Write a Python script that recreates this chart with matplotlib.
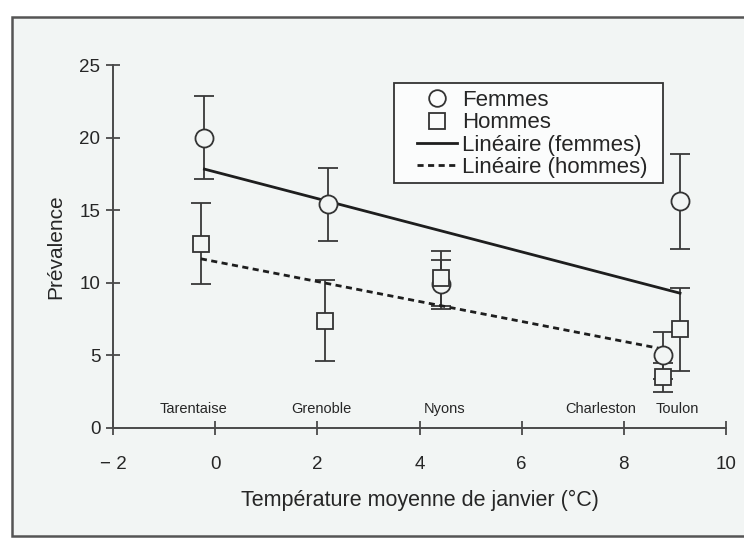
import numpy as np
import matplotlib
matplotlib.use('Agg')
import matplotlib.pyplot as plt
from matplotlib.patches import Rectangle
from matplotlib.lines import Line2D

# data
fem_x = np.array([-0.21, 2.2, 4.43, 8.76, 9.1])
fem_y = np.array([20.0, 15.4, 9.9, 5.0, 15.6])
fem_err = np.array([2.85, 2.5, 1.7, 1.6, 3.3])

hom_x = np.array([-0.28, 2.15, 4.43, 8.76, 9.1])
hom_y = np.array([12.7, 7.4, 10.3, 3.5, 6.8])
hom_err = np.array([2.8, 2.8, 1.9, 1.0, 2.85])

sites = ['Tarentaise', 'Grenoble', 'Nyons', 'Charleston', 'Toulon']
site_x = [-0.42, 2.08, 4.49, 7.55, 9.05]

xticks = [-2, 0, 2, 4, 6, 8, 10]
yticks = [0, 5, 10, 15, 20, 25]

BG = '#f2f5f4'
INK = '#262626'

plt.rcParams['font.family'] = ['Liberation Sans', 'DejaVu Sans']

fig = plt.figure(figsize=(7.44, 5.38), dpi=100)
fig.patch.set_facecolor('white')
# scanned page frame
fig.patches.append(Rectangle((12 / 744, 2 / 538), 1.0, 519 / 538, transform=fig.transFigure,
                             facecolor=BG, edgecolor='#555555', lw=1.8, zorder=-10))

ax = fig.add_axes([113 / 744, 110 / 538, 613 / 744, 363 / 538])
ax.set_facecolor('none')

ax.errorbar(fem_x, fem_y, yerr=fem_err, fmt='none', ecolor='#383838', elinewidth=1.3,
            capsize=7, capthick=1.3, zorder=2)
ax.errorbar(hom_x, hom_y, yerr=hom_err, fmt='none', ecolor='#383838', elinewidth=1.3,
            capsize=7, capthick=1.3, zorder=2)

# linear trends
pf = np.polyfit(fem_x, fem_y, 1)
ph = np.polyfit(hom_x, hom_y, 1)
xf = np.array([fem_x.min(), fem_x.max()])
xh = np.array([hom_x.min(), hom_x[3]])
ax.plot(xf, np.polyval(pf, xf), '-', color='#1e1e1e', lw=2.0, zorder=3)
ax.plot(xh, np.polyval(ph, xh), '--', color='#1e1e1e', lw=2.0, dashes=(2.2, 1.6), zorder=3)

ax.plot(fem_x, fem_y, 'o', ms=13, mfc=BG, mec='#333333', mew=1.3, zorder=4)
ax.plot(hom_x, hom_y, 's', ms=12, mfc=BG, mec='#333333', mew=1.3, zorder=4)

for name, sx in zip(sites, site_x):
    ax.text(sx, 1.3, name, ha='center', va='center', fontsize=10.5, color=INK)

ax.set_xlim(-2, 10)
ax.set_ylim(0, 25)
ax.set_xticks(xticks)
ax.set_yticks(yticks)
ax.set_xticklabels(['\u2212 2'] + [str(t) for t in xticks[1:]])
for s in ['top', 'right']:
    ax.spines[s].set_visible(False)
for s in ['left', 'bottom']:
    ax.spines[s].set_color('#4a4a4a')
    ax.spines[s].set_linewidth(1.4)
ax.tick_params(direction='inout', length=10, width=1.3, color='#4a4a4a',
               labelsize=13.5, labelcolor=INK)
ax.tick_params(axis='x', pad=15)
ax.tick_params(axis='y', pad=4)

ax.set_xlabel('Température moyenne de janvier (°C)', fontsize=15.5, color=INK, labelpad=12)
ax.set_ylabel('Prévalence', fontsize=15, color=INK, labelpad=10)

# legend box as in the scan (wide side padding)
ax.add_patch(Rectangle((394 / 744, 1 - 183 / 538), 269 / 744, 100 / 538,
                       transform=fig.transFigure, facecolor='#fbfcfc', edgecolor='#333333',
                       lw=1.3, zorder=5, clip_on=False))
handles = [
    Line2D([], [], ls='none', marker='o', ms=12, mfc='#fbfcfc', mec='#333333', mew=1.3),
    Line2D([], [], ls='none', marker='s', ms=11, mfc='#fbfcfc', mec='#333333', mew=1.3),
    Line2D([], [], ls='-', color='#1e1e1e', lw=2.0),
    Line2D([], [], ls='--', color='#1e1e1e', lw=2.0, dashes=(2.2, 1.6)),
]
labels = ['Femmes', 'Hommes', 'Linéaire (femmes)', 'Linéaire (hommes)']
leg = ax.legend(handles, labels, loc='upper left', bbox_to_anchor=(417 / 744, 1 - 90 / 538),
                bbox_transform=fig.transFigure, fontsize=16, frameon=False,
                labelspacing=0.06, handlelength=1.8, handletextpad=0.22, borderpad=0,
                numpoints=1, borderaxespad=0)
leg.set_zorder(6)
for t in leg.get_texts():
    t.set_color(INK)

fig.savefig('out.png', dpi=100, facecolor=fig.get_facecolor())
